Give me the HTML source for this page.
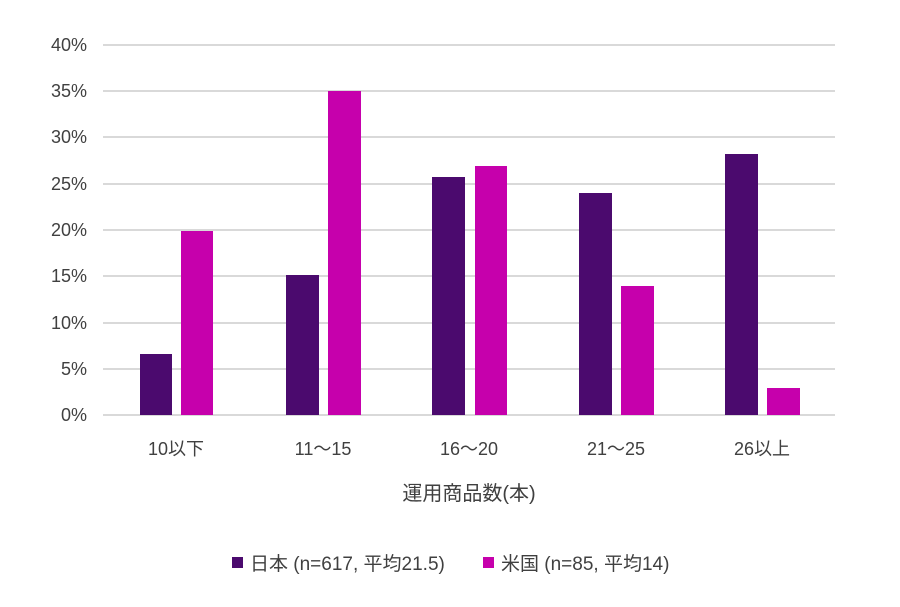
<!DOCTYPE html>
<html><head><meta charset="utf-8"><style>
body{margin:0;background:#fff;}
text{font-family:"Liberation Sans","Noto Sans CJK JP",sans-serif;fill:#404040;}
</style></head><body>
<svg width="900" height="602" xmlns="http://www.w3.org/2000/svg">
<g stroke="#d9d9d9" stroke-width="2">
<line x1="103" x2="835" y1="45" y2="45"/><line x1="103" x2="835" y1="91" y2="91"/>
<line x1="103" x2="835" y1="137" y2="137"/><line x1="103" x2="835" y1="184" y2="184"/>
<line x1="103" x2="835" y1="230" y2="230"/><line x1="103" x2="835" y1="276" y2="276"/>
<line x1="103" x2="835" y1="323" y2="323"/><line x1="103" x2="835" y1="369" y2="369"/>
<line x1="103" x2="835" y1="415" y2="415"/>
</g>
<g font-size="18" text-anchor="end">
<text x="87" y="51">40%</text><text x="87" y="97">35%</text><text x="87" y="143">30%</text>
<text x="87" y="190">25%</text><text x="87" y="236">20%</text><text x="87" y="282">15%</text>
<text x="87" y="329">10%</text><text x="87" y="375">5%</text><text x="87" y="421">0%</text>
</g>
<g fill="#4b0a6e">
<rect x="140" y="354" width="32" height="61"/><rect x="286" y="275" width="33" height="140"/>
<rect x="432" y="177" width="33" height="238"/><rect x="579" y="193" width="33" height="222"/>
<rect x="725" y="154" width="33" height="261"/>
</g>
<g fill="#c600ac">
<rect x="181" y="231" width="32" height="184"/><rect x="328" y="91" width="33" height="324"/>
<rect x="475" y="166" width="32" height="249"/><rect x="621" y="286" width="33" height="129"/>
<rect x="767" y="388" width="33" height="27"/>
</g>
<g font-size="18" text-anchor="middle">
<text x="176" y="455">10以下</text><text x="323" y="455">11～15</text><text x="469" y="455">16～20</text>
<text x="616" y="455">21～25</text><text x="762" y="455">26以上</text>
<text x="469" y="500" font-size="20">運用商品数(本)</text>
</g>
<rect x="232" y="557" width="11" height="11" fill="#4b0a6e"/>
<text x="250" y="570" font-size="19">日本 (n=617, 平均21.5)</text>
<rect x="483" y="557" width="11" height="11" fill="#c600ac"/>
<text x="501" y="570" font-size="19">米国 (n=85, 平均14)</text>
</svg>
</body></html>
